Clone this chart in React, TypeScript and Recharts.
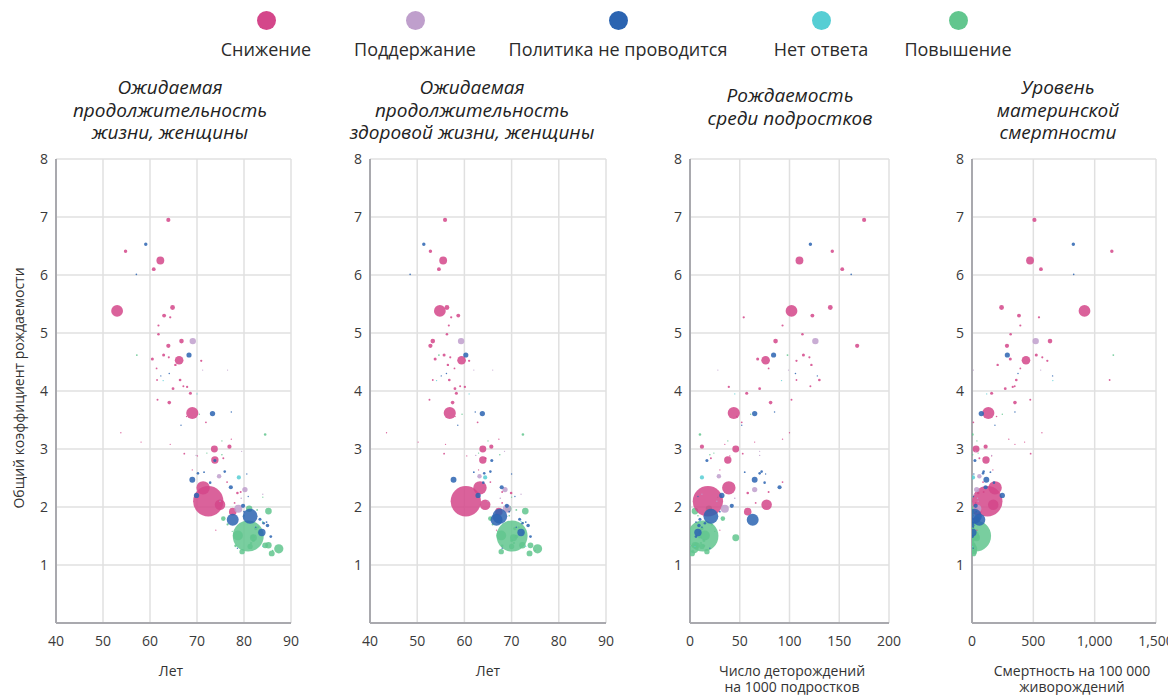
import React from 'react';
import { ScatterChart, Scatter, XAxis, YAxis, ZAxis, CartesianGrid } from 'recharts';

// each row: [TFR, life exp. women, healthy life exp. women, teen births per 1000, maternal deaths per 100k, population (mln)]
type Row = [number, number, number, number, number, number];

const categories = ['Снижение', 'Поддержание', 'Политика не проводится', 'Нет ответа', 'Повышение'];
const colors = ['#d4468a', '#bf9fcc', '#2b64b1', '#56ced4', '#62c68e'];

const lower: Row[] = [
  [6.95, 63.9, 55.9, 175, 509, 24], [6.41, 54.8, 52.8, 143, 1140, 16], [6.25, 62.2, 55.5, 110, 473, 90],
  [6.1, 60.8, 54.6, 153, 562, 20], [5.38, 53.0, 54.8, 102, 917, 206], [5.44, 64.8, 56.3, 141, 241, 33],
  [5.3, 63.0, 58.7, 123, 383, 21], [5.27, 64.3, 57.2, 54, 546, 6], [5.13, 61.8, 56.7, 93, 394, 5],
  [4.98, 61.8, 56.3, 113, 315, 8], [4.78, 63.9, 52.8, 168, 285, 25], [4.86, 66.7, 53.3, 86, 636, 30],
  [4.62, 62.9, 55.7, 114, 524, 12], [4.55, 60.5, 53.8, 68, 312, 12], [4.53, 66.2, 59.4, 76, 440, 110],
  [4.52, 70.9, 61.0, 107, 614, 6], [4.45, 65.4, 56.5, 122, 209, 7], [4.58, 64.0, 57.0, 120, 573, 5],
  [4.39, 61.4, 57.9, 79, 394, 3], [4.19, 66.4, 56.8, 130, 361, 9], [4.19, 61.5, 53.3, 107, 1122, 3],
  [4.04, 64.9, 58.0, 70, 271, 10], [4.08, 67.1, 59.1, 121, 348, 4], [4.07, 67.9, 60.1, 39, 332, 6],
  [3.96, 68.6, 58.3, 57, 160, 12], [3.85, 61.6, 52.6, 102, 475, 4], [3.8, 64.1, 57.5, 81, 350, 18],
  [3.62, 69.0, 56.9, 44, 133, 220], [3.46, 71.9, 62.8, 52, 11, 3], [3.56, 67.8, 58.0, 47, 200, 2],
  [3.28, 53.8, 43.5, 100, 570, 0.6], [3.12, 58.1, 50.2, 65, 429, 0.6], [3.04, 76.9, 65.7, 12, 111, 25],
  [3.0, 73.7, 63.9, 46, 33, 70], [3.17, 77.3, 67.3, 93, 300, 1], [2.92, 67.3, 55.7, 53, 478, 3],
  [2.81, 73.8, 63.9, 38, 114, 80], [2.84, 75.6, 64.5, 21, 60, 4], [2.64, 69.0, 63.0, 30, 170, 0.6],
  [2.43, 76.4, 65.5, 93, 90, 3], [2.33, 71.3, 63.3, 39, 188, 270], [2.1, 72.4, 60.3, 18, 125, 1380],
  [2.04, 74.9, 64.4, 77, 173, 165], [2.24, 78.6, 69.9, 58, 50, 8], [2.26, 79.3, 68.0, 79, 95, 4],
  [1.92, 77.6, 67.3, 58, 45, 85], [2.07, 78.0, 68.0, 66, 30, 3], [3.08, 64.3, 56.0, 35, 350, 0.8],
  [2.88, 70.1, 60.5, 40, 160, 0.5], [1.6, 74.0, 66.8, 30, 40, 0.5],
];

const maintain: Row[] = [
  [4.86, 69.1, 59.3, 126, 519, 60], [2.89, 69.8, 62.4, 70, 160, 1], [2.53, 74.7, 63.2, 29, 60, 28],
  [2.3, 80.2, 68.6, 65, 38, 40], [2.15, 79.4, 67.6, 45, 45, 2], [1.97, 78.8, 69.0, 35, 43, 97],
  [2.22, 84.0, 72.0, 12, 20, 0.6], [4.36, 71.2, 62.0, 99, 560, 0.4], [4.36, 76.5, 66.0, 28, 12, 0.4],
  [2.96, 79.5, 68.5, 70, 30, 0.5], [2.1, 74.9, 65.0, 27, 50, 1],
];

const noPolicy: Row[] = [
  [6.53, 59.1, 51.4, 121, 826, 16], [6.01, 57.1, 48.5, 162, 829, 2], [4.62, 68.3, 60.3, 84, 288, 38],
  [4.3, 64.1, 56.2, 106, 375, 1.5], [4.26, 62.3, 55.1, 128, 657, 1], [3.61, 73.3, 63.8, 65, 76, 40],
  [3.64, 77.3, 62.3, 85, 350, 1.5], [3.41, 66.6, 58.6, 52, 187, 1], [2.8, 73.8, 65.8, 17, 24, 12],
  [2.58, 70.2, 64.2, 70, 90, 8], [2.47, 69.0, 57.7, 65, 117, 50], [2.42, 72.8, 64.0, 75, 179, 8],
  [2.61, 75.9, 65.5, 72, 95, 8], [2.34, 77.2, 67.9, 90, 111, 24], [2.57, 80.6, 70.0, 76, 15, 1],
  [2.18, 80.9, 70.7, 8, 12, 1], [2.2, 69.9, 62.9, 32, 247, 40], [1.84, 81.3, 67.5, 21, 19, 330],
  [1.78, 77.6, 66.8, 63, 60, 212], [2.02, 79.8, 69.0, 42, 30, 24], [1.56, 83.8, 72.0, 8, 7, 80],
  [1.68, 85.0, 73.5, 9, 6, 17], [1.49, 85.7, 74.0, 6, 5, 10], [1.79, 83.4, 71.7, 10, 6, 12],
  [1.72, 84.2, 72.3, 15, 9, 8], [1.74, 84.8, 73.0, 6, 4, 3], [1.29, 78.6, 68.0, 20, 10, 1],
  [2.6, 71.5, 62.0, 55, 150, 3], [1.92, 80.0, 69.5, 30, 35, 3], [1.65, 82.5, 71.0, 12, 10, 2],
];

const noAnswer: Row[] = [
  [2.51, 78.9, 64.4, 12, 8, 25], [4.18, 62.8, 54.1, 92, 659, 0.8], [1.75, 84.0, 72.0, 10, 8, 0.6],
  [1.32, 84.0, 73.0, 5, 5, 0.5], [3.95, 70.0, 61.0, 45, 120, 0.3],
];

const raise: Row[] = [
  [1.5, 80.9, 70.1, 13, 29, 1440], [1.51, 78.7, 67.8, 15, 17, 145], [1.28, 87.4, 75.5, 4, 5, 126],
  [1.2, 85.9, 73.8, 2, 11, 51], [1.23, 79.6, 67.8, 17, 19, 42], [1.47, 82.0, 70.4, 46, 37, 70],
  [1.93, 85.2, 72.9, 5, 8, 65], [1.34, 85.2, 72.3, 5, 2, 60], [1.97, 81.1, 69.3, 19, 20, 60],
  [1.8, 75.6, 65.5, 33, 45, 30], [1.34, 84.5, 74.0, 7, 4, 47], [1.32, 81.3, 70.0, 12, 3, 38],
  [1.63, 82.5, 70.7, 12, 8, 15], [1.56, 83.2, 72.5, 10, 6, 10], [1.49, 81.9, 71.0, 10, 5, 20],
  [3.25, 84.5, 72.4, 10, 3, 9], [4.62, 57.2, 54.6, 98, 1152, 3], [3.6, 70.5, 59.5, 61, 247, 1],
  [3.14, 75.3, 65.0, 38, 40, 0.8], [2.9, 75.3, 67.5, 20, 5, 1.5], [2.93, 72.1, 63.0, 24, 50, 0.8],
  [2.17, 84.0, 70.0, 28, 10, 0.6], [1.73, 84.0, 72.4, 8, 4, 3], [1.65, 83.0, 71.5, 12, 7, 4],
  [1.42, 82.0, 70.0, 14, 9, 10], [1.38, 81.5, 70.5, 11, 5, 5], [1.25, 86.1, 75.0, 3, 3, 2],
  [1.95, 82.8, 71.0, 21, 12, 3], [1.58, 77.5, 67.0, 25, 30, 1], [1.33, 78.2, 68.0, 14, 8, 8],
  [1.7, 76.5, 66.0, 22, 25, 5], [1.85, 80.0, 69.5, 8, 10, 2],
];

const yTicks = [1, 2, 3, 4, 5, 6, 7, 8];
const lifeTicks = [40, 50, 60, 70, 80, 90];
const teenTicks = [0, 50, 100, 150, 200];
const mmrTicks = [0, 500, 1000, 1500];

const toPoints = (rows: Row[]) =>
  rows
    .map(([tfr, le, hle, abr, mmr, pop]) => ({ tfr, le, hle, abr, mmr, pop }))
    .sort((a, b) => b.pop - a.pop);

const series = [lower, maintain, noPolicy, noAnswer, raise].map(toPoints);
const drawOrder = [4, 0, 1, 3, 2]; // green first, blue last

const panels = [
  { key: 'le', domain: [40, 90], ticks: lifeTicks, left: 56, width: 235, right: 20, title: ['Ожидаемая', 'продолжительность', 'жизни, женщины'], titleX: 170, titleTop: 76, xLabel: ['Лет'], labelX: 171 },
  { key: 'hle', domain: [40, 90], ticks: lifeTicks, left: 370, width: 236, right: 20, title: ['Ожидаемая', 'продолжительность', 'здоровой жизни, женщины'], titleX: 472, titleTop: 76, xLabel: ['Лет'], labelX: 488 },
  { key: 'abr', domain: [0, 200], ticks: teenTicks, left: 690, width: 199, right: 20, title: ['Рождаемость', 'среди подростков'], titleX: 790, titleTop: 84, xLabel: ['Число деторождений', 'на 1000 подростков'], labelX: 792 },
  { key: 'mmr', domain: [0, 1500], ticks: mmrTicks, left: 972, width: 184, right: 12, title: ['Уровень', 'материнской', 'смертности'], titleX: 1058, titleTop: 76, xLabel: ['Смертность на 100 000', 'живорождений'], labelX: 1072 },
];

const font = '"Open Sans", "Noto Sans", sans-serif';
const axisLine = { stroke: '#a9a9ae', strokeWidth: 2 };
const tickStyle = { fill: '#3a3a3a', fontSize: 14, fontFamily: font };

const Panel = ({ p }: { p: any }) => (
  <div style={{ position: 'absolute', left: p.left - 40, top: 150 }}>
    <ScatterChart width={p.width + 40 + p.right} height={513} margin={{ top: 9, right: p.right, bottom: 0, left: 10 }}>
      <CartesianGrid stroke="#e0e0e0" strokeWidth={1.5} />
      <XAxis
        type="number"
        dataKey={p.key}
        domain={p.domain}
        ticks={p.ticks}
        interval={0}
        allowDataOverflow
        height={40}
        tickSize={0}
        tickMargin={13}
        axisLine={axisLine}
        tick={tickStyle}
        tickFormatter={(v: number) => v.toLocaleString('en-US')}
      />
      <YAxis
        type="number"
        dataKey="tfr"
        domain={[0, 8]}
        ticks={yTicks}
        interval={0}
        width={30}
        tickSize={0}
        tickMargin={8}
        axisLine={axisLine}
        tick={tickStyle}
      />
      <ZAxis type="number" dataKey="pop" domain={[0, 1440]} range={[1, 755]} />
      {drawOrder.map((i) => (
        <Scatter key={i} name={categories[i]} data={series[i]} fill={colors[i]} fillOpacity={0.85} isAnimationActive={false} />
      ))}
    </ScatterChart>
  </div>
);

export default function App() {
  return (
    <div style={{ position: 'absolute', left: 0, top: 0, width: 1168, height: 695, background: '#fff', fontFamily: font, color: '#2b2b2b', overflow: 'hidden' }}>
      {/* legend */}
      {categories.map((c, i) => {
        const cx = [266, 415, 618, 821, 958][i];
        return (
          <div key={c} style={{ position: 'absolute', left: cx - 150, top: 11, width: 300, textAlign: 'center' }}>
            <div style={{ width: 19, height: 19, borderRadius: '50%', background: colors[i], margin: '0 auto' }} />
            <div style={{ fontSize: 18, lineHeight: '24px', marginTop: 7 }}>{c}</div>
          </div>
        );
      })}

      {panels.map((p) => (
        <div key={p.key}>
          <div style={{ position: 'absolute', left: p.titleX - 140, top: p.titleTop, width: 280, textAlign: 'center', fontStyle: 'italic', fontSize: 19, lineHeight: '22.5px', color: '#222' }}>
            {p.title.map((t) => (
              <div key={t}>{t}</div>
            ))}
          </div>
          <Panel p={p} />
          <div style={{ position: 'absolute', left: p.labelX - 120, top: 663, width: 240, textAlign: 'center', fontSize: 14, lineHeight: '16px', color: '#333' }}>
            {p.xLabel.map((t) => (
              <div key={t}>{t}</div>
            ))}
          </div>
        </div>
      ))}

      <div style={{ position: 'absolute', left: 18, top: 388, transform: 'translate(-50%, -50%) rotate(-90deg)', whiteSpace: 'nowrap', fontSize: 14, color: '#333' }}>
        Общий коэффициент рождаемости
      </div>
    </div>
  );
}
